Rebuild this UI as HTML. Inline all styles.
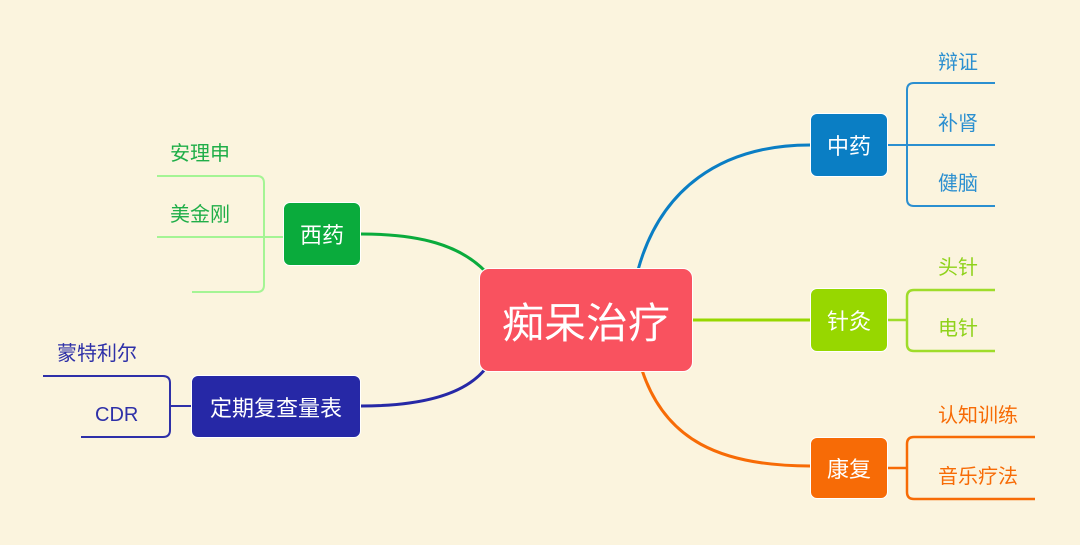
<!DOCTYPE html>
<html><head><meta charset="utf-8"><style>
body{margin:0;width:1080px;height:545px;background:#fbf4de;position:relative;overflow:hidden;font-family:"Liberation Sans","Noto Sans CJK SC",sans-serif}
.b{position:absolute;border-radius:7px;color:#fff;display:flex;align-items:center;justify-content:center;font-size:22px;border:1px solid #fff;box-sizing:border-box}
.t{position:absolute;font-size:20px;line-height:24px;white-space:nowrap}
</style></head><body>
<svg width="1080" height="545" style="position:absolute;left:0;top:0" fill="none">
<path d="M638 270 C 660 190, 720 145, 810 145" stroke="#0a7ec4" stroke-width="3"/>
<path d="M693 320 H810" stroke="#97d700" stroke-width="3"/>
<path d="M642 370 C 665 440, 720 466, 810 466" stroke="#f76b06" stroke-width="3"/>
<path d="M361 234 C 420 234, 460 245, 486 272" stroke="#0aab3c" stroke-width="3"/>
<path d="M361 406 C 420 406, 465 395, 486 368" stroke="#2628a6" stroke-width="3"/>
<g stroke="#2b8fd0" stroke-width="2"><path d="M888 145 H995 M995 83 H914 Q907 83 907 90 V199 Q907 206 914 206 H995"/></g>
<g stroke="#9fdc2a" stroke-width="2.5"><path d="M888 320 H907 M995 290 H914 Q907 290 907 297 V344 Q907 351 914 351 H995"/></g>
<g stroke="#f76b06" stroke-width="2.5"><path d="M888 468 H907 M1035 437 H914 Q907 437 907 444 V492 Q907 499 914 499 H1035"/></g>
<g stroke="#a4f494" stroke-width="2"><path d="M283 237 H157 M157 176 H257 Q264 176 264 183 V285 Q264 292 257 292 H192"/></g>
<g stroke="#2e30a8" stroke-width="2"><path d="M191 406 H170 M43 376 H163 Q170 376 170 383 V430 Q170 437 163 437 H81"/></g>
</svg>
<div class="b" style="left:479px;top:268px;width:214px;height:104px;background:#f9525f;font-size:42px;border-radius:10px">痴呆治疗</div>
<div class="b" style="left:810px;top:113px;width:78px;height:64px;background:#0a7ec4">中药</div>
<div class="b" style="left:810px;top:288px;width:78px;height:64px;background:#97d700">针灸</div>
<div class="b" style="left:810px;top:437px;width:78px;height:62px;background:#f76b06">康复</div>
<div class="b" style="left:283px;top:202px;width:78px;height:64px;background:#0aab3c">西药</div>
<div class="b" style="left:191px;top:375px;width:170px;height:63px;background:#2628a6">定期复查量表</div>
<div class="t" style="left:938px;top:51px;color:#2b8fd0">辩证</div>
<div class="t" style="left:938px;top:112px;color:#2b8fd0">补肾</div>
<div class="t" style="left:938px;top:172px;color:#2b8fd0">健脑</div>
<div class="t" style="left:938px;top:256px;color:#8fd21a">头针</div>
<div class="t" style="left:938px;top:317px;color:#8fd21a">电针</div>
<div class="t" style="left:938px;top:404px;color:#f76b06">认知训练</div>
<div class="t" style="left:938px;top:465px;color:#f76b06">音乐疗法</div>
<div class="t" style="left:170px;top:142px;color:#1fae48">安理申</div>
<div class="t" style="left:170px;top:203px;color:#1fae48">美金刚</div>
<div class="t" style="left:57px;top:342px;color:#2e30a8">蒙特利尔</div>
<div class="t" style="left:95px;top:403px;color:#2e30a8">CDR</div>
</body></html>
